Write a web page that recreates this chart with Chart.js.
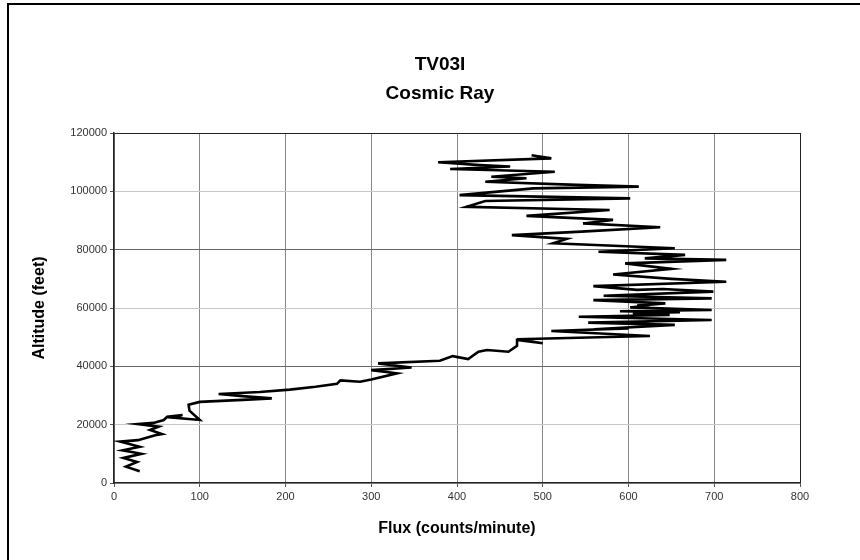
<!DOCTYPE html>
<html>
<head>
<meta charset="utf-8">
<script src="https://cdn.jsdelivr.net/npm/chart.js@4"></script>
<style>
  html, body { margin: 0; padding: 0; background: #fff; }
  #wrap { position: relative; width: 860px; height: 560px; }
  #frame { position: absolute; left: 7px; top: 3px; right: 0; bottom: 0;
           border-left: 2px solid #000; border-top: 2px solid #000; pointer-events: none; }
</style>
</head>
<body>
<div id="wrap">
  <canvas id="chart" width="860" height="560"></canvas>
  <div id="frame"></div>
</div>
<script>
// altitude (feet) along the ascent, and the flux (counts/minute) read at each one
var altitude = [
  4000, 5600, 7200, 8600, 10000, 11200, 12400, 14200, 14700, 16400,
  16800, 18200, 19300, 20200, 20600, 21600, 22700, 23300, 22400, 21600,
  24800, 26800, 27800, 28500, 29000, 29800, 30500, 31200, 32000, 33000,
  34000, 35200, 34700, 35500, 37600, 38700, 39600, 41000, 41900, 43500,
  42500, 45000, 45600, 45000, 47000, 49000, 47900, 49300, 50400, 52100,
  53000, 52700, 54200, 55000, 55900, 57000, 57600, 58200, 58600, 58900,
  59300, 60200, 61000, 60800, 61600, 62700, 63300, 64200, 65600, 66500,
  66200, 67500, 69000, 70000, 71500, 73400, 75300, 76500, 77000, 78200,
  79300, 80500, 82200, 83700, 85000, 86200, 87700, 89000, 90200, 91600,
  93600, 94700, 96700, 97600, 98700, 101000, 101600, 102200, 103300, 104500,
  105000, 106700, 107650, 108500, 109000, 109950, 111300, 112400];
var flux = [
  30, 14, 27, 11, 32, 10, 30, 7, 28, 48,
  56, 42, 52, 28, 46, 58, 62, 80, 68, 100,
  88, 87, 100, 150, 184, 150, 122, 170, 205, 235,
  260, 264, 287, 300, 330, 300, 347, 308, 380, 395,
  413, 425, 435, 460, 470, 470, 500, 470, 625, 510,
  600, 560, 654, 553, 697, 542, 648, 605, 660, 590,
  697, 602, 625, 610, 643, 559, 697, 571, 699, 640,
  610, 559, 714, 650, 582, 650, 596, 714, 619, 666,
  565, 654, 512, 528, 464, 545, 637, 547, 582, 481,
  578, 411, 433, 602, 403, 489, 612, 540, 433, 481,
  440, 514, 392, 462, 427, 378, 510, 487];
var fluxTicks = [0, 100, 200, 300, 400, 500, 600, 700, 800];
var altTicks = [0, 20000, 40000, 60000, 80000, 100000, 120000];

var fam = '"Liberation Sans", Arial, sans-serif';

new Chart(document.getElementById('chart'), {
  type: 'scatter',
  data: {
    datasets: [{
      data: flux.map(function (f, i) { return { x: f, y: altitude[i] }; }),
      showLine: true,
      borderColor: '#000',
      borderWidth: 2.6,
      pointRadius: 0,
      tension: 0
    }]
  },
  options: {
    responsive: false,
    animation: false,
    layout: { padding: { left: 20, right: 0, top: 0, bottom: 0 } },
    plugins: {
      legend: { display: false },
      tooltip: { enabled: false },
      title: {
        display: true,
        text: ['TV03I', 'Cosmic Ray'],
        color: '#000',
        font: { family: fam, size: 19, weight: 'bold', lineHeight: 1.5 },
        padding: { top: 51, bottom: 25 }
      }
    },
    scales: {
      x: {
        type: 'linear',
        min: 0, max: 800,
        afterBuildTicks: function (s) { s.ticks = fluxTicks.map(function (v) { return { value: v }; }); },
        afterFit: function (s) { s.height = 77; },
        ticks: { color: '#333', padding: 3, font: { family: fam, size: 11 },
          callback: function (v) { return String(v); } },
        grid: {
          color: function (c) { return c.tick && c.tick.value === 800 ? '#222' : '#888'; },
          tickColor: '#555', tickLength: 4, lineWidth: 1
        },
        border: { color: '#222', width: 1.5 },
        title: { display: true, text: 'Flux (counts/minute)', color: '#000',
          font: { family: fam, size: 16, weight: 'bold' }, padding: { top: 0, bottom: 22 } }
      },
      y: {
        type: 'linear',
        min: 0, max: 120000,
        afterBuildTicks: function (s) { s.ticks = altTicks.map(function (v) { return { value: v }; }); },
        afterFit: function (s) { s.width = 94; },
        ticks: { color: '#333', padding: 3, font: { family: fam, size: 11 },
          callback: function (v) { return String(v); } },
        grid: {
          color: function (c) {
            var v = c.tick && c.tick.value;
            if (v === 120000) return '#222';
            if (v === 40000 || v === 80000) return '#666';
            return '#c8c8c8';
          },
          tickColor: '#555', tickLength: 4, lineWidth: 1
        },
        border: { color: '#222', width: 1.5 },
        title: { display: true, text: 'Altitude (feet)', color: '#000',
          font: { family: fam, size: 16, weight: 'bold' }, padding: { top: 10, bottom: 0 } }
      },
      yr: {
        type: 'linear',
        position: 'right',
        display: true,
        afterFit: function (s) { s.width = 60; },
        ticks: { display: false },
        grid: { display: false },
        border: { display: false }
      }
    }
  }
});
</script>
</body>
</html>
